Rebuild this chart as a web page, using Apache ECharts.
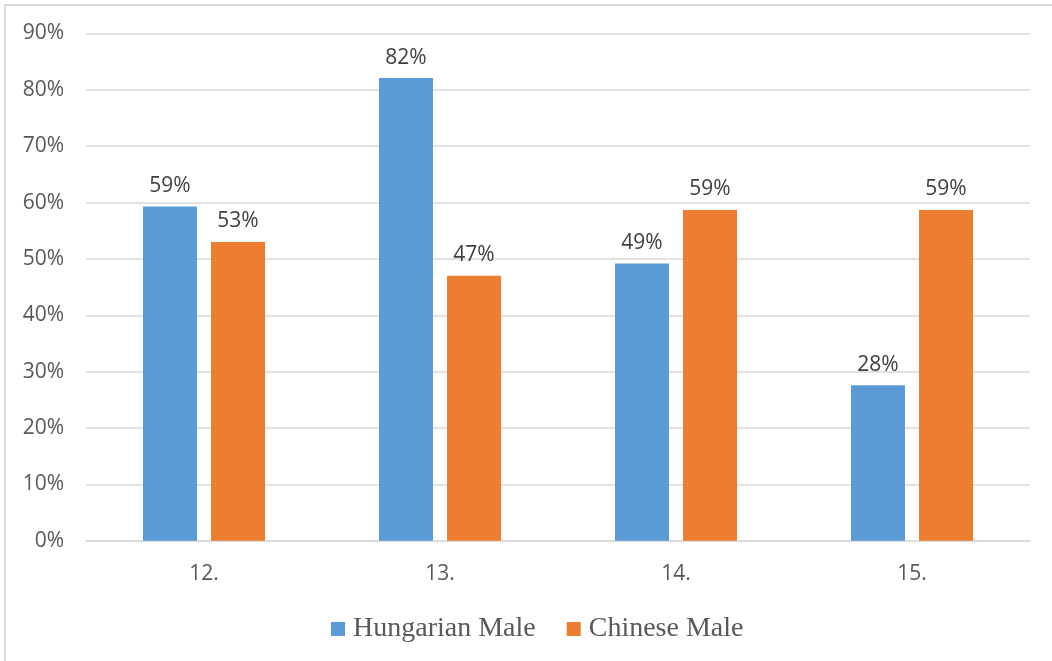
<!DOCTYPE html>
<html>
<head>
<meta charset="utf-8">
<script src="https://cdn.jsdelivr.net/npm/echarts@6/dist/echarts.min.js"></script>
<style>
  html, body { margin: 0; padding: 0; background: #ffffff; }
  #chart { width: 1052px; height: 661px; }
</style>
</head>
<body>
<div id="chart"></div>
<script>
// Question numbers on the category axis
const categories = ['12.', '13.', '14.', '15.'];
// Share of respondents, in percent
const hungarianMale = [59.3, 82.1, 49.2, 27.6];
const chineseMale = [53.0, 47.0, 58.7, 58.7];
const seriesNames = ['Hungarian Male', 'Chinese Male'];

const labelFont = '"Open Sans", "Liberation Sans", sans-serif';

const chart = echarts.init(document.getElementById('chart'), null, { renderer: 'canvas' });

function barLabel() {
  return {
    show: true,
    position: 'top',
    distance: 10,
    fontFamily: labelFont,
    fontSize: 21,
    color: '#404040',
    formatter: p => Math.round(p.value) + '%'
  };
}

chart.setOption({
  animation: false,
  backgroundColor: '#ffffff',
  graphic: [{
    type: 'rect',
    silent: true,
    shape: { x: 5, y: 5, width: 3000, height: 3000 },
    style: { fill: 'none', stroke: '#d9d9d9', lineWidth: 2 }
  }],
  grid: { left: 86, right: 22, top: 33.5, bottom: 120.3, containLabel: false },
  legend: {
    left: 326,
    top: 610,
    itemWidth: 14,
    itemHeight: 14,
    itemGap: 31,
    icon: 'rect',
    textStyle: {
      fontFamily: '"Liberation Serif", "DejaVu Serif", serif',
      fontSize: 28,
      color: '#595959',
      padding: [0, 0, 0, 3]
    },
    data: seriesNames
  },
  xAxis: {
    type: 'category',
    data: categories,
    axisLine: { show: true, lineStyle: { color: '#d9d9d9', width: 1.5 } },
    axisTick: { show: false },
    axisLabel: { fontFamily: labelFont, fontSize: 21, color: '#595959', margin: 23 }
  },
  yAxis: {
    type: 'value',
    min: 0,
    max: 90,
    interval: 10,
    axisLine: { show: false },
    axisTick: { show: false },
    splitLine: { lineStyle: { color: '#d9d9d9', width: 1.5 } },
    axisLabel: {
      fontFamily: labelFont, fontSize: 21, color: '#595959', margin: 22,
      padding: [5, 0, 0, 0],
      formatter: '{value}%'
    }
  },
  series: [
    {
      name: seriesNames[0],
      type: 'bar',
      data: hungarianMale,
      barWidth: 54,
      barGap: '26%',
      itemStyle: { color: '#5b9bd5' },
      label: barLabel()
    },
    {
      name: seriesNames[1],
      type: 'bar',
      data: chineseMale,
      barWidth: 54,
      barGap: '26%',
      itemStyle: { color: '#ed7d31' },
      label: barLabel()
    }
  ]
});
</script>
</body>
</html>
